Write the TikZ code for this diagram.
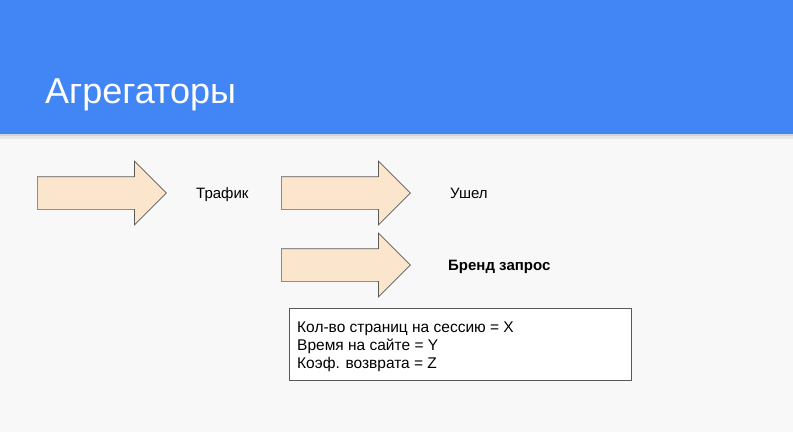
\documentclass[tikz,border=0pt]{standalone}
\usepackage{fontspec}
\setmainfont{Liberation Sans}
\usetikzlibrary{shapes.arrows, positioning, calc}
\definecolor{slideblue}{HTML}{4285F4}
\definecolor{slidebg}{HTML}{F8F8F8}
\definecolor{peach}{HTML}{FCE5CD}
\definecolor{edgegray}{HTML}{595959}
\tikzstyle{bigarrow} = [single arrow, draw=edgegray, fill=peach, anchor=west, inner xsep=0pt, inner ysep=16pt, minimum height=129pt, single arrow head extend=15.5pt, line width=0.7pt]
\tikzstyle{label} = [anchor=base west, inner sep=0pt, font=\fontsize{15}{18}\selectfont]
\tikzstyle{infobox} = [draw=edgegray, anchor=north west, minimum width=342pt, minimum height=72pt, inner sep=0pt, line width=0.8pt, fill=white]

\begin{document}
\begin{tikzpicture}[x=1pt, y=-1pt]

	% Slide background and header
	\fill[slidebg] (0,0) rectangle (793,432);
	\useasboundingbox (0,0) rectangle (793,432);
	\fill[black!30, opacity=0.5] (0,133) rectangle (793,136);
	\fill[black!15, opacity=0.5] (0,136) rectangle (793,139);
	\fill[slideblue] (0,0) rectangle (793,134);
	\node (title) [anchor=base west, inner sep=0pt, text=white, font=\fontsize{36}{40}\selectfont] at (45,103) {Агрегаторы};

	% Arrows
	\node (arr1) [bigarrow] at (37,193) {};
	\node (arr2) [bigarrow] at (281,193) {};
	\node (arr3) [bigarrow] at (281,265) {};

	% Labels
	\node (traffic) [label] at (196,198) {Трафик};
	\node (left)    [label] at (450,198) {Ушел};
	\node (brand)   [label, font=\fontsize{15}{18}\selectfont\bfseries] at (448,270) {Бренд запрос};

	% Metrics box
	\node (stats) [infobox] at (289,308) {};
	\node (statstext) [anchor=base west, inner sep=0pt, align=left, font=\fontsize{15.5}{18}\selectfont] at (297,368) {Кол-во страниц на сессию = X\\Время на сайте = Y\\Коэф. возврата = Z};

\end{tikzpicture}
\end{document}
